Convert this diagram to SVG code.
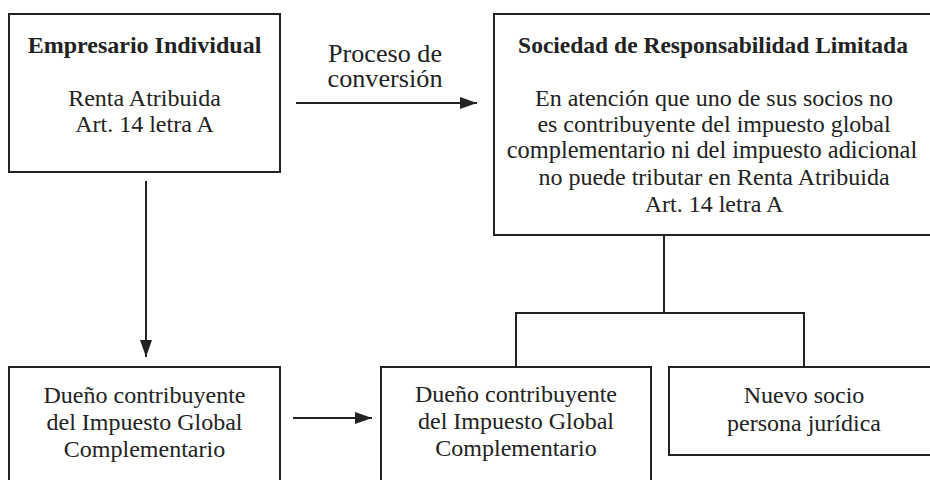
<svg xmlns="http://www.w3.org/2000/svg" width="930" height="480" viewBox="0 0 930 480">
<style>
  .box { fill: #fff; stroke: #222; stroke-width: 2; }
  .t { font-family: "Liberation Serif", "DejaVu Serif", serif; font-size: 24px; fill: #222; text-anchor: middle; }
  .b { font-weight: bold; }
  .lbl { font-size: 25px; }
  .ln { fill: none; stroke: #222; stroke-width: 2; }
</style>
<defs>
  <marker id="ah" viewBox="0 0 17 12" refX="17" refY="6" markerWidth="17" markerHeight="12" markerUnits="userSpaceOnUse" orient="auto">
    <path d="M0,0 L17,6 L0,12 z" fill="#222"/>
  </marker>
</defs>
<rect width="930" height="480" fill="#fff"/>
<g id="connectors">
  <line class="ln" x1="146" y1="181" x2="146" y2="357" marker-end="url(#ah)"/>
  <line class="ln" x1="296" y1="103" x2="477" y2="103" marker-end="url(#ah)"/>
  <line class="ln" x1="293" y1="418" x2="372" y2="418" marker-end="url(#ah)"/>
  <polyline class="ln" points="664,235 664,313"/>
  <polyline class="ln" points="516,367 516,313 804,313 804,367"/>
  <g id="label-conversion">
    <text class="t lbl" x="385" y="62" textLength="114" lengthAdjust="spacingAndGlyphs">Proceso de</text>
    <text class="t lbl" x="385" y="87" textLength="115" lengthAdjust="spacingAndGlyphs">conversión</text>
  </g>
</g>
<g id="empresario">
  <rect class="box" x="9" y="14" width="271" height="158"/>
  <text class="t b" x="144.5" y="53">Empresario Individual</text>
  <text class="t" x="144.5" y="106">Renta Atribuida</text>
  <text class="t" x="144.5" y="132">Art. 14 letra A</text>
</g>
<g id="srl">
  <rect class="box" x="494" y="14" width="450" height="221"/>
  <text class="t b" x="713" y="53" style="font-size:23.5px">Sociedad de Responsabilidad Limitada</text>
  <text class="t" x="714" y="106">En atención que uno de sus socios no</text>
  <text class="t" x="714" y="132">es contribuyente del impuesto global</text>
  <text class="t" x="712" y="158" style="font-size:24.4px">complementario ni del impuesto adicional</text>
  <text class="t" x="714" y="185">no puede tributar en Renta Atribuida</text>
  <text class="t" x="714" y="212">Art. 14 letra A</text>
</g>
<g id="dueno-left">
  <rect class="box" x="9" y="367" width="271" height="130"/>
  <text class="t" x="144.5" y="403">Dueño contribuyente</text>
  <text class="t" x="144.5" y="430">del Impuesto Global</text>
  <text class="t" x="144.5" y="457">Complementario</text>
</g>
<g id="dueno-right">
  <rect class="box" x="381" y="367" width="270" height="130"/>
  <text class="t" x="516" y="402">Dueño contribuyente</text>
  <text class="t" x="516" y="429">del Impuesto Global</text>
  <text class="t" x="516" y="456">Complementario</text>
</g>
<g id="nuevo-socio">
  <rect class="box" x="669" y="367" width="280" height="88"/>
  <text class="t" x="804" y="403">Nuevo socio</text>
  <text class="t" x="804" y="431">persona jurídica</text>
</g>
</svg>
